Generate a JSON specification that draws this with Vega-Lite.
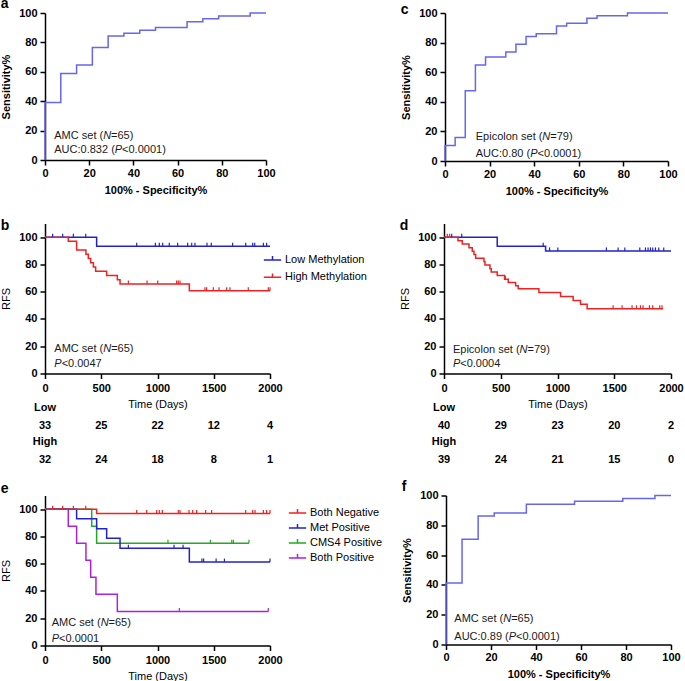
{
"$schema": "https://vega.github.io/schema/vega-lite/v6.json",
"background": "white",
"padding": {"left": 0, "top": -3, "right": 5, "bottom": 5},
"config": {
 "font": "Liberation Sans",
 "view": {"stroke": null},
 "axis": {"grid": false, "domainColor": "black", "domainWidth": 1.5, "tickColor": "black", "tickWidth": 1.5, "tickSize": 5, "labelFont": "Liberation Sans", "labelFontSize": 11, "labelFontWeight": "bold", "labelColor": "black", "labelFlush": false, "labelOverlap": false, "titleFont": "Liberation Sans", "titleFontSize": 11, "titleColor": "black", "titleFontWeight": "normal"},
 "axisX": {"labelPadding": 2, "titlePadding": 6},
 "axisY": {"labelPadding": 3, "titlePadding": 7},
 "title": {"anchor": "start", "fontSize": 14, "fontWeight": "bold", "color": "black", "baseline": "alphabetic", "frame": "bounds"},
 "legend": {"labelFont": "Liberation Sans", "labelFontSize": 11, "labelColor": "black", "labelOffset": 3, "padding": 0}
},
"datasets": {
 "rocA": [{"fpr":0,"tpr":0},{"fpr":0,"tpr":39.2},{"fpr":7.14,"tpr":58.8},{"fpr":14.29,"tpr":64.7},{"fpr":21.43,"tpr":76.5},{"fpr":28.57,"tpr":84.3},{"fpr":35.71,"tpr":86.3},{"fpr":42.86,"tpr":88.2},{"fpr":50,"tpr":90.2},{"fpr":64.29,"tpr":94.1},{"fpr":71.43,"tpr":96.1},{"fpr":78.57,"tpr":98.0},{"fpr":92.86,"tpr":100},{"fpr":100,"tpr":100}],
 "rocC": [{"fpr":0,"tpr":0},{"fpr":0,"tpr":10.5},{"fpr":4.55,"tpr":15.8},{"fpr":9.09,"tpr":47.4},{"fpr":13.64,"tpr":64.9},{"fpr":18.18,"tpr":70.2},{"fpr":27.27,"tpr":73.7},{"fpr":31.82,"tpr":78.9},{"fpr":36.36,"tpr":84.2},{"fpr":40.91,"tpr":86.0},{"fpr":50,"tpr":91.2},{"fpr":54.55,"tpr":93.0},{"fpr":63.64,"tpr":96.5},{"fpr":68.18,"tpr":98.2},{"fpr":81.82,"tpr":100},{"fpr":100,"tpr":100}],
 "rocF": [{"fpr":0,"tpr":0},{"fpr":0,"tpr":41.2},{"fpr":7.14,"tpr":70.6},{"fpr":14.29,"tpr":86.3},{"fpr":21.43,"tpr":88.2},{"fpr":35.71,"tpr":94.1},{"fpr":57.14,"tpr":96.1},{"fpr":78.57,"tpr":98.0},{"fpr":92.86,"tpr":100},{"fpr":100,"tpr":100}],
 "kmB": [
  {"group":"Low Methylation","time":0,"surv":100},{"group":"Low Methylation","time":459,"surv":93.3},{"group":"Low Methylation","time":2000,"surv":93.3},
  {"group":"High Methylation","time":0,"surv":100},{"group":"High Methylation","time":207,"surv":96.9},{"group":"High Methylation","time":281,"surv":90.6},{"group":"High Methylation","time":364,"surv":87.5},{"group":"High Methylation","time":385,"surv":84.4},{"group":"High Methylation","time":406,"surv":81.3},{"group":"High Methylation","time":430,"surv":78.1},{"group":"High Methylation","time":450,"surv":75.0},{"group":"High Methylation","time":548,"surv":71.9},{"group":"High Methylation","time":643,"surv":68.8},{"group":"High Methylation","time":667,"surv":65.6},{"group":"High Methylation","time":1283,"surv":60.6},{"group":"High Methylation","time":2000,"surv":60.6}],
 "cenB": [
  {"group":"Low Methylation","time":68,"surv":100},{"group":"Low Methylation","time":157,"surv":100},{"group":"Low Methylation","time":252,"surv":100},{"group":"Low Methylation","time":362,"surv":100},
  {"group":"Low Methylation","time":815,"surv":93.3},{"group":"Low Methylation","time":981,"surv":93.3},{"group":"Low Methylation","time":1016,"surv":93.3},{"group":"Low Methylation","time":1046,"surv":93.3},{"group":"Low Methylation","time":1105,"surv":93.3},{"group":"Low Methylation","time":1179,"surv":93.3},{"group":"Low Methylation","time":1268,"surv":93.3},{"group":"Low Methylation","time":1304,"surv":93.3},{"group":"Low Methylation","time":1333,"surv":93.3},{"group":"Low Methylation","time":1440,"surv":93.3},{"group":"Low Methylation","time":1478,"surv":93.3},{"group":"Low Methylation","time":1668,"surv":93.3},{"group":"Low Methylation","time":1784,"surv":93.3},{"group":"Low Methylation","time":1846,"surv":93.3},{"group":"Low Methylation","time":1864,"surv":93.3},{"group":"Low Methylation","time":1941,"surv":93.3},{"group":"Low Methylation","time":1970,"surv":93.3},
  {"group":"High Methylation","time":741,"surv":65.6},{"group":"High Methylation","time":907,"surv":65.6},{"group":"High Methylation","time":1002,"surv":65.6},{"group":"High Methylation","time":1170,"surv":65.6},{"group":"High Methylation","time":1185,"surv":65.6},{"group":"High Methylation","time":1200,"surv":65.6},
  {"group":"High Methylation","time":1422,"surv":60.6},{"group":"High Methylation","time":1437,"surv":60.6},{"group":"High Methylation","time":1496,"surv":60.6},{"group":"High Methylation","time":1547,"surv":60.6},{"group":"High Methylation","time":1615,"surv":60.6},{"group":"High Methylation","time":1644,"surv":60.6},{"group":"High Methylation","time":1807,"surv":60.6},{"group":"High Methylation","time":1985,"surv":60.6},{"group":"High Methylation","time":2000,"surv":60.6}],
 "riskB": [
  {"group":"Low","time":0,"n":"33"},{"group":"Low","time":500,"n":"25"},{"group":"Low","time":1000,"n":"22"},{"group":"Low","time":1500,"n":"12"},{"group":"Low","time":2000,"n":"4"},
  {"group":"High","time":0,"n":"32"},{"group":"High","time":500,"n":"24"},{"group":"High","time":1000,"n":"18"},{"group":"High","time":1500,"n":"8"},{"group":"High","time":2000,"n":"1"}],
 "kmD": [
  {"group":"Low","time":0,"surv":100},{"group":"Low","time":469,"surv":93.4},{"group":"Low","time":895,"surv":89.9},{"group":"Low","time":2000,"surv":89.9},
  {"group":"High","time":0,"surv":100},{"group":"High","time":123,"surv":97.4},{"group":"High","time":161,"surv":94.9},{"group":"High","time":220,"surv":92.3},{"group":"High","time":249,"surv":89.7},{"group":"High","time":264,"surv":87.2},{"group":"High","time":279,"surv":84.6},{"group":"High","time":352,"surv":82.1},{"group":"High","time":361,"surv":79.5},{"group":"High","time":405,"surv":76.9},{"group":"High","time":416,"surv":74.4},{"group":"High","time":469,"surv":71.8},{"group":"High","time":534,"surv":69.2},{"group":"High","time":566,"surv":66.7},{"group":"High","time":631,"surv":64.4},{"group":"High","time":654,"surv":62.2},{"group":"High","time":836,"surv":59.4},{"group":"High","time":1027,"surv":56.4},{"group":"High","time":1138,"surv":53.6},{"group":"High","time":1203,"surv":50.7},{"group":"High","time":1261,"surv":47.5},{"group":"High","time":1930,"surv":47.5}],
 "cenD": [
  {"group":"Low","time":68,"surv":100},{"group":"Low","time":156,"surv":100},{"group":"Low","time":874,"surv":93.4},
  {"group":"Low","time":930,"surv":89.9},{"group":"Low","time":1003,"surv":89.9},{"group":"Low","time":1431,"surv":89.9},{"group":"Low","time":1534,"surv":89.9},{"group":"Low","time":1593,"surv":89.9},{"group":"Low","time":1725,"surv":89.9},{"group":"Low","time":1775,"surv":89.9},{"group":"Low","time":1798,"surv":89.9},{"group":"Low","time":1819,"surv":89.9},{"group":"Low","time":1839,"surv":89.9},{"group":"Low","time":1863,"surv":89.9},{"group":"Low","time":1892,"surv":89.9},{"group":"Low","time":1936,"surv":89.9},
  {"group":"High","time":29,"surv":100},{"group":"High","time":50,"surv":100},{"group":"High","time":540,"surv":69.2},
  {"group":"High","time":1490,"surv":47.5},{"group":"High","time":1569,"surv":47.5},{"group":"High","time":1657,"surv":47.5},{"group":"High","time":1696,"surv":47.5},{"group":"High","time":1731,"surv":47.5},{"group":"High","time":1754,"surv":47.5},{"group":"High","time":1810,"surv":47.5},{"group":"High","time":1839,"surv":47.5},{"group":"High","time":1901,"surv":47.5},{"group":"High","time":1921,"surv":47.5}],
 "riskD": [
  {"group":"Low","time":0,"n":"40"},{"group":"Low","time":500,"n":"29"},{"group":"Low","time":1000,"n":"23"},{"group":"Low","time":1500,"n":"20"},{"group":"Low","time":2000,"n":"2"},
  {"group":"High","time":0,"n":"39"},{"group":"High","time":500,"n":"24"},{"group":"High","time":1000,"n":"21"},{"group":"High","time":1500,"n":"15"},{"group":"High","time":2000,"n":"0"}],
 "kmE": [
  {"group":"Both Positive","time":0,"surv":100},{"group":"Both Positive","time":207,"surv":87.5},{"group":"Both Positive","time":281,"surv":75},{"group":"Both Positive","time":364,"surv":62.5},{"group":"Both Positive","time":406,"surv":50},{"group":"Both Positive","time":453,"surv":37.5},{"group":"Both Positive","time":643,"surv":25},{"group":"Both Positive","time":1985,"surv":25},
  {"group":"CMS4 Positive","time":0,"surv":100},{"group":"CMS4 Positive","time":415,"surv":87.5},{"group":"CMS4 Positive","time":459,"surv":75},{"group":"CMS4 Positive","time":1813,"surv":75},
  {"group":"Met Positive","time":0,"surv":100},{"group":"Met Positive","time":281,"surv":92.9},{"group":"Met Positive","time":459,"surv":85.7},{"group":"Met Positive","time":548,"surv":78.6},{"group":"Met Positive","time":667,"surv":71.4},{"group":"Met Positive","time":1283,"surv":61.2},{"group":"Met Positive","time":2000,"surv":61.2},
  {"group":"Both Negative","time":0,"surv":100},{"group":"Both Negative","time":459,"surv":96.8},{"group":"Both Negative","time":2000,"surv":96.8}],
 "cenE": [
  {"group":"Both Negative","time":68,"surv":100},{"group":"Both Negative","time":157,"surv":100},{"group":"Both Negative","time":252,"surv":100},{"group":"Both Negative","time":362,"surv":100},
  {"group":"Both Negative","time":815,"surv":96.8},{"group":"Both Negative","time":904,"surv":96.8},{"group":"Both Negative","time":993,"surv":96.8},{"group":"Both Negative","time":1016,"surv":96.8},{"group":"Both Negative","time":1043,"surv":96.8},{"group":"Both Negative","time":1185,"surv":96.8},{"group":"Both Negative","time":1200,"surv":96.8},{"group":"Both Negative","time":1280,"surv":96.8},{"group":"Both Negative","time":1313,"surv":96.8},{"group":"Both Negative","time":1348,"surv":96.8},{"group":"Both Negative","time":1428,"surv":96.8},{"group":"Both Negative","time":1481,"surv":96.8},{"group":"Both Negative","time":1784,"surv":96.8},{"group":"Both Negative","time":1846,"surv":96.8},{"group":"Both Negative","time":1867,"surv":96.8},{"group":"Both Negative","time":1941,"surv":96.8},{"group":"Both Negative","time":1970,"surv":96.8},{"group":"Both Negative","time":2000,"surv":96.8},
  {"group":"Met Positive","time":741,"surv":71.4},{"group":"Met Positive","time":1147,"surv":71.4},{"group":"Met Positive","time":1227,"surv":71.4},
  {"group":"Met Positive","time":1395,"surv":61.2},{"group":"Met Positive","time":1410,"surv":61.2},{"group":"Met Positive","time":1521,"surv":61.2},{"group":"Met Positive","time":1595,"surv":61.2},{"group":"Met Positive","time":2000,"surv":61.2},
  {"group":"CMS4 Positive","time":1093,"surv":75},{"group":"CMS4 Positive","time":1470,"surv":75},{"group":"CMS4 Positive","time":1660,"surv":75},{"group":"CMS4 Positive","time":1675,"surv":75},{"group":"CMS4 Positive","time":1813,"surv":75},
  {"group":"Both Positive","time":1194,"surv":25},{"group":"Both Positive","time":1985,"surv":25}]
},
"resolve": {"scale": {"color": "independent"}, "legend": {"color": "independent"}},
"spacing": 22.5,
"vconcat": [
 {"hconcat": [
  {"title": {"text": "a", "offset": -4}, "width": 221, "height": 147,
   "layer": [
    {"data": {"name": "rocA"}, "mark": {"type": "line", "interpolate": "step-after", "color": "#6666ee", "strokeWidth": 1.5},
     "encoding": {"x": {"field": "fpr", "type": "quantitative", "scale": {"domain": [0, 100]}, "axis": {"values": [0,20,40,60,80,100], "tickCount": 6, "title": "100% - Specificity%", "titleFontWeight": "bold"}},
      "y": {"field": "tpr", "type": "quantitative", "scale": {"domain": [0, 100]}, "axis": {"values": [0,20,40,60,80,100], "tickCount": 6, "title": "Sensitivity%", "titleFontWeight": "bold"}},
      "order": {"value": null}}},
    {"data": {"values": [{}]}, "mark": {"type": "text", "align": "left", "baseline": "middle", "fontSize": 11, "color": "#1a1a1a"}, "encoding": {"x": {"datum": 4.2}, "y": {"datum": 16.4}, "text": {"value": "AMC set ("}}},
    {"data": {"values": [{}]}, "mark": {"type": "text", "align": "left", "baseline": "middle", "fontSize": 11, "color": "#1a1a1a", "fontStyle": "italic", "dx": 48.9}, "encoding": {"x": {"datum": 4.2}, "y": {"datum": 16.4}, "text": {"value": "N"}}},
    {"data": {"values": [{}]}, "mark": {"type": "text", "align": "left", "baseline": "middle", "fontSize": 11, "color": "#1a1a1a", "dx": 56.8}, "encoding": {"x": {"datum": 4.2}, "y": {"datum": 16.4}, "text": {"value": "=65)"}}},
    {"data": {"values": [{}]}, "mark": {"type": "text", "align": "left", "baseline": "middle", "fontSize": 11, "color": "#1a1a1a"}, "encoding": {"x": {"datum": 4.2}, "y": {"datum": 6.8}, "text": {"value": "AUC:0.832 ("}}},
    {"data": {"values": [{}]}, "mark": {"type": "text", "align": "left", "baseline": "middle", "fontSize": 11, "color": "#1a1a1a", "fontStyle": "italic", "dx": 60.5}, "encoding": {"x": {"datum": 4.2}, "y": {"datum": 6.8}, "text": {"value": "P"}}},
    {"data": {"values": [{}]}, "mark": {"type": "text", "align": "left", "baseline": "middle", "fontSize": 11, "color": "#1a1a1a", "dx": 67.8}, "encoding": {"x": {"datum": 4.2}, "y": {"datum": 6.8}, "text": {"value": "<0.0001)"}}}
   ]},
  {"title": {"text": "c", "offset": -10}, "width": 223, "height": 148,
   "layer": [
    {"data": {"name": "rocC"}, "mark": {"type": "line", "interpolate": "step-after", "color": "#6666ee", "strokeWidth": 1.5},
     "encoding": {"x": {"field": "fpr", "type": "quantitative", "scale": {"domain": [0, 100]}, "axis": {"values": [0,20,40,60,80,100], "tickCount": 6, "title": "100% - Specificity%", "titleFontWeight": "bold"}},
      "y": {"field": "tpr", "type": "quantitative", "scale": {"domain": [0, 100]}, "axis": {"values": [0,20,40,60,80,100], "tickCount": 6, "title": "Sensitivity%", "titleFontWeight": "bold"}},
      "order": {"value": null}}},
    {"data": {"values": [{}]}, "mark": {"type": "text", "align": "left", "baseline": "middle", "fontSize": 11, "color": "#1a1a1a"}, "encoding": {"x": {"datum": 13.8}, "y": {"datum": 16.2}, "text": {"value": "Epicolon set ("}}},
    {"data": {"values": [{}]}, "mark": {"type": "text", "align": "left", "baseline": "middle", "fontSize": 11, "color": "#1a1a1a", "fontStyle": "italic", "dx": 66.6}, "encoding": {"x": {"datum": 13.8}, "y": {"datum": 16.2}, "text": {"value": "N"}}},
    {"data": {"values": [{}]}, "mark": {"type": "text", "align": "left", "baseline": "middle", "fontSize": 11, "color": "#1a1a1a", "dx": 74.5}, "encoding": {"x": {"datum": 13.8}, "y": {"datum": 16.2}, "text": {"value": "=79)"}}},
    {"data": {"values": [{}]}, "mark": {"type": "text", "align": "left", "baseline": "middle", "fontSize": 11, "color": "#1a1a1a"}, "encoding": {"x": {"datum": 13.8}, "y": {"datum": 4.9}, "text": {"value": "AUC:0.80 ("}}},
    {"data": {"values": [{}]}, "mark": {"type": "text", "align": "left", "baseline": "middle", "fontSize": 11, "color": "#1a1a1a", "fontStyle": "italic", "dx": 54.4}, "encoding": {"x": {"datum": 13.8}, "y": {"datum": 4.9}, "text": {"value": "P"}}},
    {"data": {"values": [{}]}, "mark": {"type": "text", "align": "left", "baseline": "middle", "fontSize": 11, "color": "#1a1a1a", "dx": 61.7}, "encoding": {"x": {"datum": 13.8}, "y": {"datum": 4.9}, "text": {"value": "<0.0001)"}}}
   ]}
 ], "spacing": 124},
 {"vconcat": [
  {"hconcat": [
   {"vconcat": [
    {"title": {"text": "b", "offset": -9.5}, "width": 225, "height": 150,
     "layer": [
      {"data": {"name": "kmB"}, "mark": {"type": "line", "interpolate": "step-after", "strokeWidth": 1.5},
       "encoding": {"x": {"field": "time", "type": "quantitative", "scale": {"domain": [0, 2000]}, "axis": {"values": [0,500,1000,1500,2000], "tickCount": 5, "format": "d", "title": "Time (Days)", "labelPadding": 4, "titlePadding": 5}},
        "y": {"field": "surv", "type": "quantitative", "scale": {"domain": [0, 110]}, "axis": {"values": [0,20,40,60,80,100], "tickCount": 6, "title": "RFS"}},
        "color": {"field": "group", "type": "nominal", "scale": {"domain": ["Low Methylation", "High Methylation"], "range": ["#2222cc", "#ee2222"]}, "legend": {"orient": "none", "legendX": 218, "legendY": 27, "title": null, "rowPadding": 2.3, "symbolType": "M-1,0H1M0,0V-0.45", "symbolSize": 300, "symbolStrokeWidth": 1.5}},
        "order": {"value": null}}},
      {"data": {"name": "cenB"}, "mark": {"type": "point", "shape": "M0,0V-1", "size": 49, "strokeWidth": 1.2, "filled": false, "opacity": 1},
       "encoding": {"x": {"field": "time", "type": "quantitative"}, "y": {"field": "surv", "type": "quantitative"}, "color": {"field": "group", "type": "nominal"}}},
      {"data": {"values": [{}]}, "mark": {"type": "text", "align": "left", "baseline": "middle", "fontSize": 11, "color": "#1a1a1a"}, "encoding": {"x": {"datum": 83}, "y": {"datum": 17.8}, "text": {"value": "AMC set ("}}},
      {"data": {"values": [{}]}, "mark": {"type": "text", "align": "left", "baseline": "middle", "fontSize": 11, "color": "#1a1a1a", "fontStyle": "italic", "dx": 48.9}, "encoding": {"x": {"datum": 83}, "y": {"datum": 17.8}, "text": {"value": "N"}}},
      {"data": {"values": [{}]}, "mark": {"type": "text", "align": "left", "baseline": "middle", "fontSize": 11, "color": "#1a1a1a", "dx": 56.8}, "encoding": {"x": {"datum": 83}, "y": {"datum": 17.8}, "text": {"value": "=65)"}}},
      {"data": {"values": [{}]}, "mark": {"type": "text", "align": "left", "baseline": "middle", "fontSize": 11, "color": "#1a1a1a", "fontStyle": "italic"}, "encoding": {"x": {"datum": 83}, "y": {"datum": 6.8}, "text": {"value": "P"}}},
      {"data": {"values": [{}]}, "mark": {"type": "text", "align": "left", "baseline": "middle", "fontSize": 11, "color": "#1a1a1a", "dx": 7.3}, "encoding": {"x": {"datum": 83}, "y": {"datum": 6.8}, "text": {"value": "<0.0047"}}}
     ]},
    {"width": 225, "height": 34, "data": {"name": "riskB"},
     "layer": [
      {"mark": {"type": "text", "fontWeight": "bold", "fontSize": 11, "dy": 9, "color": "black"},
       "encoding": {"x": {"field": "time", "type": "quantitative", "scale": {"domain": [0, 2000]}, "axis": null},
        "y": {"field": "group", "type": "nominal", "scale": {"type": "point", "domain": ["Low", "High"], "padding": 0}, "axis": null},
        "text": {"field": "n", "type": "nominal"}}},
      {"transform": [{"filter": "datum.time === 0"}],
       "mark": {"type": "text", "fontWeight": "bold", "fontSize": 11, "dy": -8.5, "color": "black"},
       "encoding": {"x": {"field": "time", "type": "quantitative", "axis": null}, "y": {"field": "group", "type": "nominal", "axis": null}, "text": {"field": "group", "type": "nominal"}}}
     ]}
   ], "spacing": -8},
   {"vconcat": [
    {"title": {"text": "d", "offset": -9.5}, "width": 227, "height": 150,
     "layer": [
      {"data": {"name": "kmD"}, "mark": {"type": "line", "interpolate": "step-after", "strokeWidth": 1.5},
       "encoding": {"x": {"field": "time", "type": "quantitative", "scale": {"domain": [0, 2000]}, "axis": {"values": [0,500,1000,1500,2000], "tickCount": 5, "format": "d", "title": "Time (Days)", "labelPadding": 4, "titlePadding": 5}},
        "y": {"field": "surv", "type": "quantitative", "scale": {"domain": [0, 110]}, "axis": {"values": [0,20,40,60,80,100], "tickCount": 6, "title": "RFS"}},
        "color": {"field": "group", "type": "nominal", "scale": {"domain": ["Low", "High"], "range": ["#2222cc", "#ee2222"]}, "legend": null},
        "order": {"value": null}}},
      {"data": {"name": "cenD"}, "mark": {"type": "point", "shape": "M0,0V-1", "size": 49, "strokeWidth": 1.2, "filled": false, "opacity": 1},
       "encoding": {"x": {"field": "time", "type": "quantitative"}, "y": {"field": "surv", "type": "quantitative"}, "color": {"field": "group", "type": "nominal", "legend": null}}},
      {"data": {"values": [{}]}, "mark": {"type": "text", "align": "left", "baseline": "middle", "fontSize": 11, "color": "#1a1a1a"}, "encoding": {"x": {"datum": 79}, "y": {"datum": 17.6}, "text": {"value": "Epicolon set ("}}},
      {"data": {"values": [{}]}, "mark": {"type": "text", "align": "left", "baseline": "middle", "fontSize": 11, "color": "#1a1a1a", "fontStyle": "italic", "dx": 66.6}, "encoding": {"x": {"datum": 79}, "y": {"datum": 17.6}, "text": {"value": "N"}}},
      {"data": {"values": [{}]}, "mark": {"type": "text", "align": "left", "baseline": "middle", "fontSize": 11, "color": "#1a1a1a", "dx": 74.5}, "encoding": {"x": {"datum": 79}, "y": {"datum": 17.6}, "text": {"value": "=79)"}}},
      {"data": {"values": [{}]}, "mark": {"type": "text", "align": "left", "baseline": "middle", "fontSize": 11, "color": "#1a1a1a", "fontStyle": "italic"}, "encoding": {"x": {"datum": 79}, "y": {"datum": 7.3}, "text": {"value": "P"}}},
      {"data": {"values": [{}]}, "mark": {"type": "text", "align": "left", "baseline": "middle", "fontSize": 11, "color": "#1a1a1a", "dx": 7.3}, "encoding": {"x": {"datum": 79}, "y": {"datum": 7.3}, "text": {"value": "<0.0004"}}}
     ]},
    {"width": 227, "height": 34, "data": {"name": "riskD"},
     "layer": [
      {"mark": {"type": "text", "fontWeight": "bold", "fontSize": 11, "dy": 9, "color": "black"},
       "encoding": {"x": {"field": "time", "type": "quantitative", "scale": {"domain": [0, 2000]}, "axis": null},
        "y": {"field": "group", "type": "nominal", "scale": {"type": "point", "domain": ["Low", "High"], "padding": 0}, "axis": null},
        "text": {"field": "n", "type": "nominal"}}},
      {"transform": [{"filter": "datum.time === 0"}],
       "mark": {"type": "text", "fontWeight": "bold", "fontSize": 11, "dy": -8.5, "color": "black"},
       "encoding": {"x": {"field": "time", "type": "quantitative", "axis": null}, "y": {"field": "group", "type": "nominal", "axis": null}, "text": {"field": "group", "type": "nominal"}}}
     ]}
   ], "spacing": -8}
  ], "spacing": 32, "resolve": {"scale": {"color": "independent"}, "legend": {"color": "independent"}}},
  {"hconcat": [
   {"title": {"text": "e", "offset": 0}, "width": 225, "height": 150,
    "layer": [
     {"data": {"name": "kmE"}, "mark": {"type": "line", "interpolate": "step-after", "strokeWidth": 1.5},
      "encoding": {"x": {"field": "time", "type": "quantitative", "scale": {"domain": [0, 2000]}, "axis": {"values": [0,500,1000,1500,2000], "tickCount": 5, "format": "d", "title": "Time (Days)", "labelPadding": 4, "titlePadding": 5}},
       "y": {"field": "surv", "type": "quantitative", "scale": {"domain": [0, 110]}, "axis": {"values": [0,20,40,60,80,100], "tickCount": 6, "title": "RFS"}},
       "color": {"field": "group", "type": "nominal", "scale": {"domain": ["Both Negative", "Met Positive", "CMS4 Positive", "Both Positive"], "range": ["#ee2222", "#2222cc", "#22aa22", "#aa22dd"]}, "legend": {"orient": "none", "legendX": 243, "legendY": 8, "title": null, "rowPadding": 0, "symbolType": "M-1,0H1M0,0V-0.45", "symbolSize": 300, "symbolStrokeWidth": 1.5}},
       "order": {"value": null}}},
     {"data": {"name": "cenE"}, "mark": {"type": "point", "shape": "M0,0V-1", "size": 49, "strokeWidth": 1.2, "filled": false, "opacity": 1},
      "encoding": {"x": {"field": "time", "type": "quantitative"}, "y": {"field": "surv", "type": "quantitative"}, "color": {"field": "group", "type": "nominal"}}},
     {"data": {"values": [{}]}, "mark": {"type": "text", "align": "left", "baseline": "middle", "fontSize": 11, "color": "#1a1a1a"}, "encoding": {"x": {"datum": 60}, "y": {"datum": 16.4}, "text": {"value": "AMC set ("}}},
     {"data": {"values": [{}]}, "mark": {"type": "text", "align": "left", "baseline": "middle", "fontSize": 11, "color": "#1a1a1a", "fontStyle": "italic", "dx": 48.9}, "encoding": {"x": {"datum": 60}, "y": {"datum": 16.4}, "text": {"value": "N"}}},
     {"data": {"values": [{}]}, "mark": {"type": "text", "align": "left", "baseline": "middle", "fontSize": 11, "color": "#1a1a1a", "dx": 56.8}, "encoding": {"x": {"datum": 60}, "y": {"datum": 16.4}, "text": {"value": "=65)"}}},
     {"data": {"values": [{}]}, "mark": {"type": "text", "align": "left", "baseline": "middle", "fontSize": 11, "color": "#1a1a1a", "fontStyle": "italic"}, "encoding": {"x": {"datum": 60}, "y": {"datum": 4.9}, "text": {"value": "P"}}},
     {"data": {"values": [{}]}, "mark": {"type": "text", "align": "left", "baseline": "middle", "fontSize": 11, "color": "#1a1a1a", "dx": 7.3}, "encoding": {"x": {"datum": 60}, "y": {"datum": 4.9}, "text": {"value": "<0.0001"}}}
    ]},
   {"title": {"text": "f", "offset": -4}, "width": 225, "height": 149,
    "layer": [
     {"data": {"name": "rocF"}, "mark": {"type": "line", "interpolate": "step-after", "color": "#6666ee", "strokeWidth": 1.5},
      "encoding": {"x": {"field": "fpr", "type": "quantitative", "scale": {"domain": [0, 100]}, "axis": {"values": [0,20,40,60,80,100], "tickCount": 6, "title": "100% - Specificity%", "titleFontWeight": "bold"}},
       "y": {"field": "tpr", "type": "quantitative", "scale": {"domain": [0, 100]}, "axis": {"values": [0,20,40,60,80,100], "tickCount": 6, "title": "Sensitivity%", "titleFontWeight": "bold"}},
       "order": {"value": null}}},
     {"data": {"values": [{}]}, "mark": {"type": "text", "align": "left", "baseline": "middle", "fontSize": 11, "color": "#1a1a1a"}, "encoding": {"x": {"datum": 3.7}, "y": {"datum": 16.8}, "text": {"value": "AMC set ("}}},
     {"data": {"values": [{}]}, "mark": {"type": "text", "align": "left", "baseline": "middle", "fontSize": 11, "color": "#1a1a1a", "fontStyle": "italic", "dx": 48.9}, "encoding": {"x": {"datum": 3.7}, "y": {"datum": 16.8}, "text": {"value": "N"}}},
     {"data": {"values": [{}]}, "mark": {"type": "text", "align": "left", "baseline": "middle", "fontSize": 11, "color": "#1a1a1a", "dx": 56.8}, "encoding": {"x": {"datum": 3.7}, "y": {"datum": 16.8}, "text": {"value": "=65)"}}},
     {"data": {"values": [{}]}, "mark": {"type": "text", "align": "left", "baseline": "middle", "fontSize": 11, "color": "#1a1a1a"}, "encoding": {"x": {"datum": 3.7}, "y": {"datum": 4.9}, "text": {"value": "AUC:0.89 ("}}},
     {"data": {"values": [{}]}, "mark": {"type": "text", "align": "left", "baseline": "middle", "fontSize": 11, "color": "#1a1a1a", "fontStyle": "italic", "dx": 54.4}, "encoding": {"x": {"datum": 3.7}, "y": {"datum": 4.9}, "text": {"value": "P"}}},
     {"data": {"values": [{}]}, "mark": {"type": "text", "align": "left", "baseline": "middle", "fontSize": 11, "color": "#1a1a1a", "dx": 61.7}, "encoding": {"x": {"datum": 3.7}, "y": {"datum": 4.9}, "text": {"value": "<0.0001)"}}}
    ]}
  ], "spacing": 18, "resolve": {"scale": {"color": "independent"}, "legend": {"color": "independent"}}}
 ], "spacing": 15, "resolve": {"scale": {"color": "independent"}, "legend": {"color": "independent"}}}
]
}
